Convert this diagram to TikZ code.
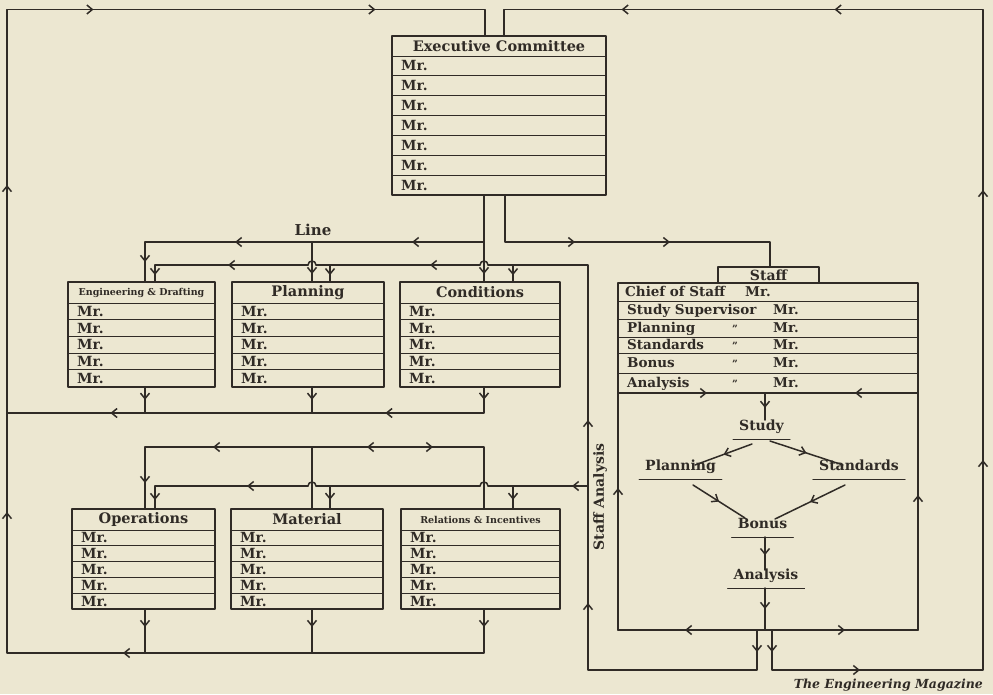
\documentclass[tikz,border=0pt]{standalone}
\usepackage{fontspec}
\setmainfont{DejaVu Serif}
\usetikzlibrary{arrows.meta, decorations.markings}

\definecolor{paper}{RGB}{236,231,209}
\definecolor{ink}{RGB}{48,43,38}

\newcommand{\smallHead}{\fontsize{9.5}{11}\selectfont}

% helper: committee table, header plus rows of Mr.
% #1 name, #2 left, #3 top, #4 width, #5 header h, #6 row h, #7 rows, #8 title
\newcommand{\MrTable}[8]{%
  \node[tableFrame, anchor=north west, minimum width=#4pt,
        minimum height={(#5+#7*#6)*1pt}] (#1) at (#2,#3) {};
  \node[headText] (#1-head) at ({#2+#4/2}, {#3+#5/2}) {#8};
  \foreach \row in {1,...,#7}{
    \draw[rowRule] (#2, {#3+#5+(\row-1)*#6}) -- ++(#4,0);
    \node[mrText] (#1-mr\row) at ({#2+9}, {#3+#5+(\row-0.5)*#6}) {Mr.};
  }
}

% helper: a jump of one wire over another at (x,y)
\newcommand{\Hump}[2]{%
  \draw[wire] (#1+4,#2) .. controls (#1+4,#2-5.3) and (#1-4,#2-5.3) .. (#1-4,#2);
}

\begin{document}
\begin{tikzpicture}[x=1pt, y=-1pt, line cap=round, line join=round, color=ink]

% ---------------- styles ----------------
\tikzset{
  tableFrame/.style ={draw, line width=1.9pt, inner sep=0pt, outer sep=0pt},
  rowRule/.style    ={line width=0.9pt},
  wire/.style       ={line width=1.5pt},
  headText/.style   ={inner sep=0pt, font=\fontsize{14.5}{16}\selectfont\bfseries},
  mrText/.style     ={anchor=west, inner sep=0pt, text height=10pt, text depth=0pt,
                      font=\fontsize{14}{16}\selectfont\bfseries},
  staffText/.style  ={anchor=west, inner sep=0pt, text height=9.5pt, text depth=0pt,
                      font=\fontsize{13.5}{15}\selectfont\bfseries},
  flowLabel/.style  ={anchor=south, inner xsep=6pt, inner ysep=5pt, text height=10.5pt,
                      text depth=3.5pt, font=\fontsize{14}{16}\selectfont\bfseries},
  tipAt/.style      ={postaction={decorate, decoration={markings,
                      mark=at position #1 with {\arrow{Straight Barb[length=5.5pt,width=9pt]}}}}}
}

% ---------------- parameters ----------------
\def\xLoopL{7}    % outer return, left
\def\xLoopR{983}  % outer return, right
\def\yLoopT{9.5}  % outer return, top
\def\xA{145}      % first column feed
\def\xAb{155}
\def\xB{312}      % second column feed
\def\xBb{330}
\def\xC{484}      % third column feed
\def\xCb{513}
\def\xExR{505}    % committee to staff
\def\xSA{588}     % staff analysis riser
\def\xStIn{770}
\def\xStL{757}
\def\xStR{772}
\def\yBusA{242}
\def\yBusB{265}
\def\yMid{413}
\def\yLowA{447}
\def\yLowB{486}
\def\yBot{653}
\def\yOut{670}

\fill[paper] (0,0) rectangle (993,694);
\useasboundingbox (0,0) rectangle (993,694);

% ---------------- tables ----------------
\MrTable{exec}{392}{36}{214}{20}{19.86}{7}{Executive Committee}
\MrTable{eng}{68}{282}{147}{21}{16.72}{5}{\smallHead Engineering \& Drafting}
\MrTable{plan}{232}{282}{152}{21}{16.72}{5}{Planning}
\MrTable{cond}{400}{282}{160}{21}{16.72}{5}{Conditions}
\MrTable{oper}{72}{509}{143}{21}{15.8}{5}{Operations}
\MrTable{mat}{231}{509}{152}{21}{15.8}{5}{Material}
\MrTable{rel}{401}{509}{159}{21}{15.8}{5}{\smallHead Relations \& Incentives}

% ---------------- staff ----------------
\node[tableFrame, line width=2pt, anchor=north west, minimum width=300pt,
      minimum height=347pt] (staff) at (618,283) {};
\node[tableFrame, line width=1.2pt, anchor=north west, minimum width=101pt,
      minimum height=16pt, font=\fontsize{14}{16}\selectfont\bfseries] (staffTab) at (718,267) {Staff};
\foreach \yy in {301,319,337,353,373}
  \draw[rowRule] (618,\yy) -- ++(300,0);

\node[staffText] (chief) at (625,292) {Chief of Staff};
\node[staffText] (chiefMr) at (745,292) {Mr.};
\foreach \yy/\duty [count=\k] in {310/Study Supervisor, 328/Planning, 345/Standards, 363/Bonus, 383/Analysis}{
  \node[staffText] (duty\k) at (627,\yy) {\duty};
  \node[staffText] (dutyMr\k) at (773,\yy) {Mr.};
}
\foreach \yy [count=\k] in {328,345,363,383}
  \node[staffText, anchor=center, font=\fontsize{10}{12}\selectfont\bfseries] (ditto\k) at (735,\yy) {''};

% study cycle inside the staff
\coordinate (stTop) at (765,393);
\coordinate (stBot) at (765,630);
\draw[wire, tipAt=80pt, tipAt=289pt, tipAt=473pt]
  (stBot) -- (staff.south west) -- (staff.west |- stTop) -- (stTop);
\draw[wire, tipAt=80pt, tipAt=288pt, tipAt=453pt]
  (stBot) -- (staff.south east) -- (staff.east |- stTop) -- (stTop);

\node[flowLabel] (study) at (761.5,439) {Study};
\node[flowLabel] (planS) at (680.5,479) {Planning};
\node[flowLabel] (standS) at (859,479) {Standards};
\node[flowLabel] (bonusS) at (762.5,537) {Bonus};
\node[flowLabel] (analysisS) at (766,588) {Analysis};
\foreach \n in {study,planS,standS,bonusS,analysisS}
  \draw[rowRule] (\n.south west) -- (\n.south east);

\draw[wire, tipAt=0.55] (stTop) -- ([xshift=3.5pt,yshift=19pt]study.south);
\draw[wire, tipAt=0.5] ([xshift=-9.5pt,yshift=-5pt]study.south) -- ([xshift=14.5pt,yshift=14pt]planS.south);
\draw[wire, tipAt=0.5] ([xshift=8.5pt,yshift=-2pt]study.south) -- ([xshift=-16pt,yshift=14pt]standS.south);
\draw[wire, tipAt=0.5] ([xshift=12.5pt,yshift=-6pt]planS.south) -- ([xshift=-17.5pt,yshift=19pt]bonusS.south);
\draw[wire, tipAt=0.5] ([xshift=-14pt,yshift=-6pt]standS.south) -- ([xshift=12.5pt,yshift=18pt]bonusS.south);
\draw[wire, tipAt=0.55] ([xshift=2.5pt]bonusS.south) -- ([xshift=-1pt,yshift=18pt]analysisS.south);
\draw[wire, tipAt=0.5] ([xshift=-1pt]analysisS.south) -- (stBot);

% ---------------- line orders from the committee ----------------
\draw[wire, tipAt=79pt] (\xC,0 |- exec.south) -- (\xC,0 |- cond.north);
\draw[wire, tipAt=72pt, tipAt=249pt, tipAt=359pt]
  (\xC,\yBusA) -- (\xA,\yBusA) -- (\xA,0 |- eng.north);
\draw[wire, tipAt=32pt] (\xB,\yBusA) -- (\xB,0 |- plan.north);

% committee to staff
\draw[wire, tipAt=117pt, tipAt=212pt]
  (\xExR,0 |- exec.south) -- (\xExR,\yBusA) -- (\xStIn,\yBusA) -- (\xStIn,0 |- staffTab.north);

% ---------------- staff analysis ----------------
\draw[wire, tipAt=22pt, tipAt=276pt, tipAt=459pt]
  (\xStL,0 |- staff.south) -- (\xStL,\yOut) -- (\xSA,\yOut) -- (\xSA,\yBusB) -- (\xC+4,\yBusB);
\Hump{\xC}{\yBusB}
\draw[wire, tipAt=50pt] (\xC-4,\yBusB) -- (\xB+4,\yBusB);
\Hump{\xB}{\yBusB}
\draw[wire, tipAt=80pt, tipAt=163pt] (\xB-4,\yBusB) -- (\xAb,\yBusB) -- (\xAb,0 |- eng.north);
\draw[wire, tipAt=0.6] (\xCb,\yBusB) -- (\xCb,0 |- cond.north);
\draw[wire, tipAt=0.6] (\xBb,\yBusB) -- (\xBb,0 |- plan.north);

\draw[wire, tipAt=16pt] (\xSA,\yLowB) -- (\xC+4,\yLowB);
\Hump{\xC}{\yLowB}
\draw[wire] (\xC-4,\yLowB) -- (\xB+4,\yLowB);
\Hump{\xB}{\yLowB}
\draw[wire, tipAt=61pt, tipAt=167pt] (\xB-4,\yLowB) -- (\xAb,\yLowB) -- (\xAb,0 |- oper.north);
\draw[wire, tipAt=0.6] (\xCb,\yLowB) -- (\xCb,0 |- rel.north);
\draw[wire, tipAt=0.6] (\xBb,\yLowB) -- (\xBb,0 |- mat.north);

% ---------------- lower line feed ----------------
\coordinate (lowSrc) at (400,\yLowA);
\draw[wire, tipAt=33pt] (lowSrc) -- (\xC,\yLowA) -- (\xC,0 |- rel.north);
\draw[wire, tipAt=33pt, tipAt=187pt, tipAt=291pt]
  (lowSrc) -- (\xA,\yLowA) -- (\xA,0 |- oper.north);
\draw[wire] (\xB,\yLowA) -- (\xB,0 |- mat.north);

% ---------------- returns ----------------
\draw[wire, tipAt=0.5] (\xA,0 |- eng.south) -- (\xA,\yMid);
\draw[wire, tipAt=0.5] (\xB,0 |- plan.south) -- (\xB,\yMid);
\draw[wire, tipAt=13pt, tipAt=125pt, tipAt=400pt]
  (\xC,0 |- cond.south) -- (\xC,\yMid) -- (\xLoopL,\yMid);

\draw[wire, tipAt=18pt] (\xA,0 |- oper.south) -- (\xA,\yBot);
\draw[wire, tipAt=18pt] (\xB,0 |- mat.south) -- (\xB,\yBot);
\draw[wire, tipAt=18pt, tipAt=405pt, tipAt=662pt, tipAt=989pt, tipAt=1251pt, tipAt=1533pt]
  (\xC,0 |- rel.south) -- (\xC,\yBot) -- (\xLoopL,\yBot) -- (\xLoopL,\yLoopT)
  -- (\xC+1,\yLoopT) -- (\xC+1,0 |- exec.north);

\draw[wire, tipAt=22pt, tipAt=128pt, tipAt=461pt, tipAt=731pt, tipAt=1060pt, tipAt=1273pt]
  (\xStR,0 |- staff.south) -- (\xStR,\yOut) -- (\xLoopR,\yOut) -- (\xLoopR,\yLoopT)
  -- (\xExR-1,\yLoopT) -- (\xExR-1,0 |- exec.north);

% ---------------- labels ----------------
\node[font=\fontsize{15}{17}\selectfont\bfseries] (lineLbl) at (313,230) {Line};
\node[rotate=90, font=\fontsize{14}{16}\selectfont\bfseries] (staffAnaLbl) at (600,497) {Staff Analysis};
\node[anchor=east, inner sep=0pt, font=\fontsize{12.5}{14}\selectfont\bfseries\itshape] (source) at (983,685) {The Engineering Magazine};

\end{tikzpicture}
\end{document}
